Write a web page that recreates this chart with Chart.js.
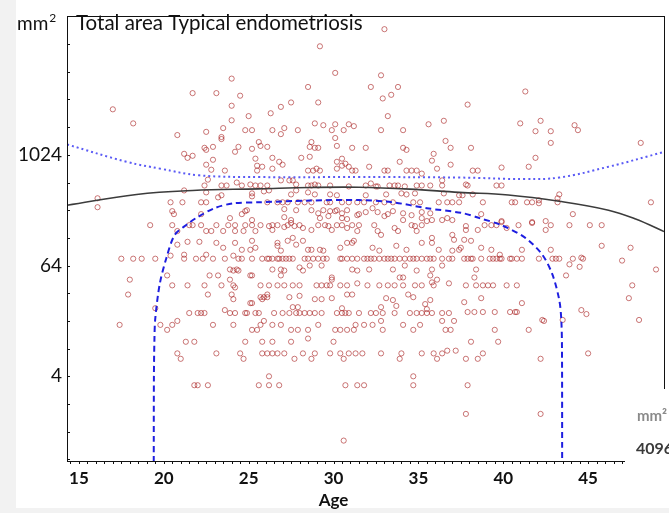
<!DOCTYPE html>
<html>
<head>
<meta charset="utf-8">
<script src="https://cdn.jsdelivr.net/npm/chart.js@4.4.1/dist/chart.umd.min.js"></script>
<style>
  html, body { margin: 0; padding: 0; background: #f2f2f2; }
  canvas { display: block; }
</style>
</head>
<body>
<canvas id="chart" width="669" height="513"></canvas>
<script>
// lesion area (mm2) against age
const lesions = [
  // very large
  [33.0,23800],[29.2,15500],[30.1,7960],[24.0,6900],[32.8,7500],[17.0,3200],[21.7,4800],[23.1,4800],[24.5,4500],
  [28.5,5600],[32.2,5600],[33.8,5600],[33.4,4600],[32.9,4200],[41.3,5000],[37.9,3600],[24.0,3500],[27.5,3800],
  [26.9,3400],[26.3,2900],[29.1,3800],[25.0,2700],[24.0,2430],[33.2,2700],[18.2,2250],[36.5,2400],[35.6,2200],
  [28.9,2250],[29.4,2150],[30.1,2200],[30.9,2200],[31.2,2100],[41.0,2250],[42.2,2400],[44.2,2150],
  [20.8,1680],[22.5,1820],[23.5,2000],[24.8,1900],[25.2,1900],[26.4,1900],[27.1,2000],[27.9,1900],[30.6,1900],
  [32.8,1900],[34.1,1900],[41.9,1850],[42.8,1850],[44.4,1900],[48.1,1380],[36.6,1450],[23.4,1520],[23.4,1600],
  [25.6,1410],[28.7,1410],[30.1,1560],[42.8,1380],[26.9,1720],[29.9,1900],[25.7,1280],[26.1,1250],[38.1,1220],
  // 1000 - 1300
  [21.2,1050],[21.4,950],[21.7,1000],[22.4,1220],[22.5,1160],[22.9,1250],[24.2,1105],[24.4,1250],[25.2,1190],
  [28.6,1250],[28.9,1220],[29.1,1220],[30.2,1280],[31.1,1220],[31.9,1220],[34.1,1220],[34.3,1160],[36.9,1220],[35.9,1050],
  // 640 - 1000
  [22.9,905],[22.5,800],[22.8,705],[23.6,690],[25.4,930],[25.5,780],[25.8,760],[25.5,690],[26.4,950],[28.1,950],
  [28.6,975],[26.8,860],[27.0,800],[26.4,724],[30.2,860],[30.5,930],[30.7,820],[30.2,724],[30.5,780],[30.9,760],
  [31.1,690],[31.3,690],[32.1,760],[33.9,860],[35.8,885],[36.9,800],[36.1,724],[28.5,690],[28.8,690],[29.0,724],
  [29.2,690],[33.0,690],[33.2,690],[34.3,690],[34.6,690],[34.9,690],[35.2,640],[41.9,950],[41.5,760],[39.9,745],
  [38.2,690],[38.5,690],
  // 345 - 550
  [22.4,475],[22.6,550],[23.4,475],[23.7,475],[24.3,512],[24.6,475],[25.1,487],[25.4,475],[25.7,475],[21.2,420],
  [22.5,400],[23.4,372],[23.2,353],[25.2,390],[25.2,362],[26.1,475],[26.9,540],[27.4,540],[27.6,540],[27.8,487],
  [28.5,475],[28.7,475],[28.9,487],[29.1,475],[29.8,475],[30.9,464],[31.9,475],[32.2,500],[32.5,464],[32.6,464],
  [33.3,475],[33.6,475],[33.8,475],[34.2,464],[34.9,475],[35.2,475],[35.7,475],[36.4,475],[36.4,540],[25.9,410],
  [26.2,420],[27.5,380],[27.8,420],[28.5,400],[28.9,380],[29.8,380],[30.2,372],[31.9,372],[33.1,380],[34.0,390],
  [34.3,380],[34.8,390],[36.5,390],[37.8,487],[37.9,475],[39.6,475],[39.9,475],[43.3,380],[43.2,345],[37.4,372],
  [37.6,372],[38.2,380],
  // around 300
  [16.1,345],[16.1,276],[20.4,312],[21.1,312],[22.2,312],[22.5,312],[26.1,312],[26.7,312],[27.0,312],[27.3,312],
  [27.9,312],[28.3,312],[28.7,312],[29.6,312],[29.8,312],[30.5,312],[30.9,312],[31.4,312],[31.8,312],[32.5,312],
  [33.0,312],[33.5,312],[34.7,312],[35.1,312],[36.2,312],[36.7,312],[37.0,312],[37.4,312],[43.2,312],[38.8,312],
  [40.5,312],[40.7,312],[41.4,312],[41.7,312],[42.1,328],[42.1,305],[48.7,312],
  // 190 - 270
  [20.5,250],[20.6,232],[22.2,232],[23.9,210],[24.6,232],[24.8,250],[24.9,256],[25.2,200],[27.1,263],[27.8,256],
  [28.7,256],[29.4,256],[29.8,250],[30.2,256],[30.8,256],[31.9,244],[32.3,269],[32.6,244],[33.5,250],[34.1,237],
  [34.6,226],[35.2,244],[35.7,237],[27.1,215],[27.5,200],[29.1,237],[29.2,210],[29.7,221],[30.1,250],[30.5,237],
  [30.5,210],[30.8,205],[31.4,226],[31.5,232],[33.0,221],[33.2,232],[34.1,200],[35.2,210],[35.8,200],[36.4,200],
  [36.7,210],[37.0,200],[38.7,232],[44.1,232],[39.9,195],[41.7,190],[42.5,195],
  // 120 - 190
  [19.2,176],[20.5,176],[21.5,176],[21.7,176],[22.2,176],[23.1,176],[23.8,176],[24.2,176],[24.8,176],[25.2,176],
  [25.7,176],[20.8,152],[22.5,152],[22.8,152],[23.5,152],[24.2,152],[24.7,152],[25.4,152],
  [26.2,172],[26.4,176],[26.4,156],[26.7,176],[27.1,168],[27.3,176],[27.5,186],[27.7,172],[28.0,176],[28.2,164],
  [28.7,156],[29.1,176],[29.5,176],[29.7,172],[29.9,156],[30.2,176],[30.5,176],[30.8,164],[31.1,176],[31.4,152],
  [31.5,176],[32.4,176],[32.6,152],[32.8,138],[33.6,164],[33.8,152],[34.6,176],[34.8,172],[34.9,152],[35.2,176],
  [35.5,195],[37.0,138],[37.1,122],[37.8,172],[37.8,156],[38.5,156],[38.9,176],[39.3,176],[39.6,176],[39.9,190],
  [40.2,164],[40.9,176],[41.7,186],[42.5,156],[42.8,176],[43.9,176],[45.1,176],[45.8,176],
  // 84 - 130
  [20.8,108],[21.4,116],[22.1,116],[23.1,113],[23.5,100],[24.2,113],[24.6,95],[25.2,119],[25.1,95],[25.4,100],
  [26.7,113],[26.7,105],[26.9,93],[27.3,119],[27.6,128],[27.8,108],[28.2,119],[28.5,95],[28.7,95],[29.2,95],
  [29.4,93],[30.4,100],[30.8,113],[31.1,113],[31.2,119],[32.3,100],[32.7,93],[33.7,105],[34.3,95],[35.2,113],
  [35.8,128],[35.8,113],[36.2,95],[37.0,93],[37.4,95],[37.7,122],[38.1,119],[37.5,100],[38.7,100],[39.3,95],
  [39.8,84],[41.1,95],[42.8,95],[45.8,105],[47.5,100],
  // the 76 row
  [17.5,76],[18.2,76],[18.7,76],[19.5,76],[20.4,82],[21.2,84],[21.2,76],[21.9,76],[22.3,76],[22.5,84],[22.9,76],
  [23.6,76],[24.1,82],[24.4,76],[24.6,76],[25.2,76],[25.8,76],[26.1,76],[26.2,76],[26.4,76],[26.7,76],[26.8,76],
  [27.0,76],[27.2,76],[27.4,76],[27.6,76],[28.3,76],[28.5,76],[28.8,76],[29.1,76],[29.4,76],[29.6,76],[30.4,76],
  [30.5,76],[30.8,76],[31.1,76],[31.4,76],[31.8,76],[32.0,76],[32.2,76],[32.4,76],[32.7,76],[33.0,76],[33.2,76],
  [33.4,76],[33.6,76],[33.9,76],[34.2,76],[34.5,76],[34.7,76],[34.9,76],[35.2,76],[35.5,76],[35.7,76],[35.9,76],
  [36.4,76],[36.8,76],[37.0,76],[37.7,76],[37.9,76],[38.1,76],[38.2,76],[38.7,76],[39.2,76],[39.4,76],[39.6,76],
  [39.8,76],[39.9,76],[40.4,76],[40.5,76],[40.8,76],[41.1,76],[42.1,76],[42.9,76],[43.1,76],[43.3,76],[44.1,76],
  [44.6,78],[44.7,76],[47.0,72.5],[43.9,66],[44.5,62],[49.0,58],
  // 40 - 65
  [18.0,45],[20.2,50],[22.7,50],[23.2,50],[23.9,45],[24.1,56.5],[23.9,58],[24.3,58],[24.4,56.5],[25.1,50],[25.2,50],
  [26.4,58],[26.9,58],[27.1,56.5],[26.9,50],[28.0,61],[28.2,56.5],[28.6,64],[29.3,64],[29.9,47.5],[29.9,45],
  [31.1,58],[31.4,56.5],[32.1,58],[33.5,58],[34.2,64],[34.9,56.5],[35.8,58],[36.4,64],[33.9,47.5],[34.1,47.5],
  [35.7,50],[35.8,42],[38.4,58],[38.3,47.5],[43.7,50],
  // the 39 row
  [20.5,39],[21.4,39],[22.4,39],[23.4,39],[24.1,39],[24.2,37],[25.7,39],[26.2,39],[26.7,39],[27.1,39],[27.6,39],
  [28.0,39],[29.0,39],[29.3,39],[29.6,39],[29.8,39],[30.4,39],[30.8,39],[31.4,41],[32.0,39],[32.7,39],[33.2,39],
  [33.6,39],[34.1,39],[34.8,39],[35.2,39],[35.9,39],[36.1,45],[36.8,41],[37.8,39],[38.4,39],[38.8,39],[39.1,39],
  [39.4,39],[40.2,39],[40.8,39],[47.6,39],
  // 24 - 31
  [17.9,31],[22.6,31],[24.0,31],[24.1,27.6],[25.1,25],[25.2,25],[25.8,27.6],[25.9,29],[25.7,29],[26.1,29],[26.1,31],
  [27.4,29],[28.0,30],[28.9,27.6],[29.3,27.6],[29.9,28.3],[30.8,31],[31.1,31],[33.1,28.3],[33.5,27],[34.4,31],
  [34.7,29],[35.4,24.4],[35.7,27],[38.7,28.3],[37.7,25.6],[41.1,25],[47.4,28.3],
  // 19 - 23
  [19.5,22],[21.5,19.5],[22.0,19.5],[22.2,19.5],[22.4,19.5],[23.6,21],[23.9,19.5],[24.2,19.5],[24.8,19.5],
  [24.9,19.5],[25.4,19.5],[25.6,19.5],[26.5,19.5],[27.0,19.5],[27.4,19.5],[27.8,19.5],[28.0,19.5],[28.3,19.5],
  [28.6,19.5],[28.9,19.5],[29.3,19.5],[30.2,19.5],[30.5,19.5],[30.7,19.5],[30.9,19.5],[31.5,19.5],[32.2,19.5],
  [32.5,19.5],[32.9,19.5],[33.6,19.5],[34.5,19.5],[34.9,19.5],[35.2,19.5],[35.5,19.5],[35.8,19.5],[36.4,19.5],
  [36.8,19.5],[27.6,22.6],[27.9,22.6],[30.5,22],[32.8,22.6],[33.7,23.3],[35.5,21.5],[37.9,20],[38.3,20],[38.8,20],
  [39.5,20],[40.4,20],[40.7,20],[40.8,20],[44.6,21],[44.9,19],
  // 12 - 17
  [42.3,16.4],[43.5,16.4],[48.0,16.4],[17.4,14.5],[19.8,14.5],[20.2,12.8],[20.5,14.5],[20.8,16],[22.9,14.5],
  [24.1,14.5],[25.2,12.8],[25.5,12.8],[25.7,14.5],[25.9,16],[26.4,14.5],[26.9,14.5],[27.5,12.8],[27.9,12.8],
  [28.5,12.8],[29.1,14.5],[30.1,12.8],[30.4,12.8],[30.8,12.8],[31.2,12.8],[31.3,14.5],[31.8,14.5],[32.3,14.5],
  [32.9,12.8],[32.8,16],[34.1,14.5],[34.7,12.8],[35.1,14.5],[36.4,16],[36.6,12.8],[36.9,12.8],[37.1,16],[39.5,12.8],
  [41.5,12.8],[42.4,16],
  // 9 - 10
  [21.3,9.5],[21.8,9.5],[24.8,9.5],[25.8,9.5],[26.4,9.5],[27.5,9.5],[28.5,10.3],[30.0,9.5],[38.1,9.5],[39.7,9.5],
  // 6 - 8
  [45.0,7.1],[20.8,7.1],[21.0,6.2],[23.1,7.1],[24.5,7.1],[24.7,6.2],[25.8,7.1],[26.1,7.1],[26.4,7.1],[26.7,7.1],
  [27.1,7.1],[27.7,6.2],[28.2,7.1],[28.7,6.2],[28.9,7.1],[29.8,7.1],[30.4,7.1],[30.6,6.2],[30.9,7.1],[31.3,7.1],
  [31.7,7.1],[32.8,7.1],[33.9,6.2],[34.0,7.1],[35.2,7.1],[35.9,7.1],[36.1,6.2],[36.4,7.1],[36.7,7.6],[37.2,7.6],
  [37.8,6.2],[38.5,6.2],[38.8,7.1],[42.2,6.2],
  // small
  [26.2,4],[34.7,4],[21.8,3.2],[22.0,3.2],[22.6,3.2],[25.6,3.2],[26.2,3.2],[26.8,3.2],[30.7,3.2],[31.4,3.2],
  [31.8,3.2],[34.7,3.2],[37.9,3.2],[37.8,1.56],[42.2,1.56],[30.6,0.8]
];

// fitted curves
const meanAges  = [14.3, 18.4, 21.7, 25.6, 28.6, 31.5, 34.5, 37.4, 40.3, 43.3, 46.2, 47.8, 49.47];
const meanArea  = [290, 380, 420, 437, 452, 455, 434, 400, 375, 320, 256, 205, 150];
const upperAges = [14.3, 17.8, 19.8, 22.1, 25.6, 31.5, 37.4, 41.3, 43.3, 46.2, 49.47];
const upperArea = [1328, 861, 724, 613, 587, 587, 580, 558, 580, 760, 1100];
const lowerAges = [19.41, 19.42, 19.45, 19.5, 19.76, 20.16, 20.65, 21.4, 21.9, 23.0, 24.1, 25.6, 28.6, 31.5,
                   33.5, 35.5, 37.6, 38.6, 39.9, 41.3, 42.3, 42.9, 43.3, 43.42, 43.46, 43.47];
const lowerArea = [0.47, 4, 10, 17, 40, 78, 138, 181, 210, 270, 304, 312, 326, 330,
                   312, 269, 238, 210, 176, 128, 84, 51, 27, 16.5, 8, 0.47];

const yTickValues = [0.5, 1, 2, 4, 8, 16, 32, 64, 128, 256, 512, 1024, 2048, 4096, 8192, 16384];
const yLabelled = [4, 64, 1024];
const xTickValues = [15, 20, 25, 30, 35, 40, 45];
const xTitle = 'Age';

const FONT = 'Lato, "Open Sans", sans-serif';

const toXY = (ages, vals) => ages.map((a, i) => ({ x: a, y: vals[i] }));

const framePlugin = {
  id: 'frame',
  beforeDraw(chart) {
    const ctx = chart.ctx;
    ctx.save();
    ctx.fillStyle = '#ffffff';
    ctx.fillRect(0, 0, chart.width, chart.height);
    ctx.fillStyle = '#f2f2f2';
    ctx.fillRect(0, 0, 16, chart.height);
    ctx.fillRect(0, 508, chart.width, chart.height - 508);
    ctx.restore();
  },
  afterDraw(chart) {
    const ctx = chart.ctx;
    const a = chart.chartArea;
    const xs = chart.scales.x, ys = chart.scales.y;
    ctx.save();
    ctx.strokeStyle = '#111';
    ctx.lineWidth = 1;
    ctx.strokeRect(Math.round(a.left) + 0.5, Math.round(a.top) + 0.5,
                   Math.round(a.right - a.left), Math.round(a.bottom - a.top));
    // minor ticks
    ctx.beginPath();
    yTickValues.forEach(v => {
      const py = Math.round(ys.getPixelForValue(v)) + 0.5;
      ctx.moveTo(a.left, py);
      ctx.lineTo(a.left + 3, py);
    });
    for (let t = 14.5; t <= xs.max; t += 0.5) {
      const px = Math.round(xs.getPixelForValue(t)) + 0.5;
      ctx.moveTo(px, a.bottom);
      ctx.lineTo(px, a.bottom + 3);
    }
    ctx.stroke();

    // x axis title sits under the 30 tick in the original
    ctx.fillStyle = '#111';
    ctx.textAlign = 'center';
    ctx.textBaseline = 'middle';
    ctx.font = 'bold 17px ' + FONT;
    ctx.fillText(xTitle, xs.getPixelForValue(30), 501);

    // title and unit
    ctx.textAlign = 'left';
    ctx.textBaseline = 'alphabetic';
    ctx.font = '20.5px ' + FONT;
    ctx.fillText('Total area Typical endometriosis', 76, 30);
    ctx.font = '19px ' + FONT;
    ctx.fillText('mm', 17, 30);
    const w = ctx.measureText('mm').width;
    ctx.font = '12px ' + FONT;
    ctx.fillText('2', 17 + w + 1, 22);

    // neighbouring panel that covers the lower right corner
    ctx.fillStyle = '#ffffff';
    ctx.fillRect(625, 389, chart.width - 625, 508 - 389);
    ctx.font = 'bold 15px ' + FONT;
    ctx.fillStyle = '#8a8a8a';
    ctx.fillText('mm\u00b2', 637, 421);
    ctx.fillStyle = '#3a3a3a';
    ctx.font = 'bold 16px ' + FONT;
    ctx.fillText('4096', 636, 454);
    ctx.restore();
  }
};

new Chart(document.getElementById('chart'), {
  type: 'scatter',
  data: {
    datasets: [
      {
        label: 'upper',
        data: toXY(upperAges, upperArea),
        showLine: true, pointRadius: 0, borderColor: '#5a5af5', borderWidth: 2,
        borderDash: [2, 3], tension: 0.4, order: 0
      },
      {
        label: 'mean',
        data: toXY(meanAges, meanArea),
        showLine: true, pointRadius: 0, borderColor: '#3c3c3c', borderWidth: 1.6,
        tension: 0.4, order: 0
      },
      {
        label: 'lower',
        data: toXY(lowerAges, lowerArea),
        showLine: true, pointRadius: 0, borderColor: '#1e1ee0', borderWidth: 2,
        borderDash: [6, 4], tension: 0.3, order: 0
      },
      {
        label: 'lesions',
        data: lesions.map(p => ({ x: p[0], y: p[1] })),
        pointRadius: 2.6, pointStyle: 'circle', borderWidth: 1,
        borderColor: 'rgba(170, 35, 35, 0.62)', backgroundColor: 'rgba(0,0,0,0)', order: 1
      }
    ]
  },
  options: {
    responsive: false,
    animation: false,
    events: [],
    layout: { padding: { left: 0, top: 12, right: 4, bottom: 0 } },
    plugins: { legend: { display: false }, tooltip: { enabled: false } },
    scales: {
      x: {
        type: 'linear',
        min: 14.3, max: 49.47,
        grid: { display: false, drawTicks: false },
        border: { display: false },
        afterBuildTicks: s => { s.ticks = xTickValues.map(v => ({ value: v })); },
        afterFit: s => { s.height = 52; },
        ticks: {
          autoSkip: false, padding: 7, color: '#111',
          font: { family: FONT, size: 17, weight: 'bold' },
          callback: v => String(v)
        },
        title: { display: false }
      },
      y: {
        type: 'logarithmic',
        min: 0.48, max: 32768,
        grid: { display: false, drawTicks: false },
        border: { display: false },
        afterBuildTicks: s => { s.ticks = yTickValues.map(v => ({ value: v })); },
        afterFit: s => { s.width = 67; },
        ticks: {
          autoSkip: false, padding: 5, color: '#111',
          font: { family: FONT, size: 19 },
          callback: v => yLabelled.includes(v) ? String(v) : ''
        }
      }
    }
  },
  plugins: [framePlugin]
});
</script>
</body>
</html>
